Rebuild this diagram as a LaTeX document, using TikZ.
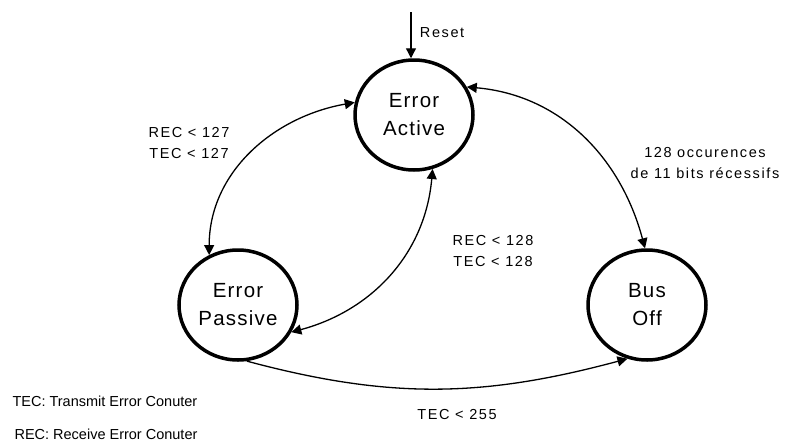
\documentclass[tikz,border=0pt]{standalone}
\usepackage{fontspec}
\setmainfont{Liberation Sans}
\newfontfamily\statefont[LetterSpace=6]{Liberation Sans}
\newfontfamily\condfont[LetterSpace=11]{Liberation Sans}
\usetikzlibrary{shapes.geometric}
\usetikzlibrary{arrows.meta}
\tikzset{state node/.style={ellipse,draw,line width=3.5pt,minimum width=118pt,minimum height=110pt,inner sep=0pt,align=center,
    font=\statefont\fontsize{20.5}{28}\selectfont},
  cond label/.style={align=center,font=\condfont\fontsize{14.5}{21}\selectfont},
  note label/.style={anchor=west,font=\fontsize{14.5}{16}\selectfont},
  trans/.style={line width=1.3pt,-{Triangle[length=10pt,width=10pt]}},
  both trans/.style={line width=1.3pt,{Triangle[length=10pt,width=10pt]}-{Triangle[length=10pt,width=10pt]}},}

\begin{document}
\begin{tikzpicture}[x=1pt,y=-1pt]
   \useasboundingbox (0,0) rectangle (787,442);
   \node[state node] (ea) at (414,115) {Error\\Active};
   \node[state node] (ep) at (238,305) {Error\\Passive};
   \node[state node] (bo) at (647,305) {Bus\\Off};
   \coordinate (reset) at (411,12);

   \path[trans] (reset) edge node[cond label,anchor=west,pos=0.45,xshift=5pt] {Reset} (reset |- ea.north);
   \path[both trans]
   (ea.168) edge[out=190,in=90] (ep.120)
   (ea.-71) edge[out=-95,in=15] (ep.-27)
   (ea.28) edge[out=-5,in=105] (bo.92);
   \path[trans] (ep.-81) edge[out=-15,in=195] (bo.-110);

   \node[cond label] (l127) at (189,143) {REC < 127\\TEC < 127};
   \node[cond label] (l128) at (493,251) {REC < 128\\TEC < 128};
   \node[cond label] (lbits) at (705,163) {128 occurences\\de 11 bits récessifs};
   \node[cond label] (l255) at (457,415) {TEC < 255};
   \node[note label] (ntec) at (9,401) {TEC: Transmit Error Conuter};
   \node[note label] (nrec) at (11,434) {REC: Receive Error Conuter};
  \end{tikzpicture}
\end{document}
